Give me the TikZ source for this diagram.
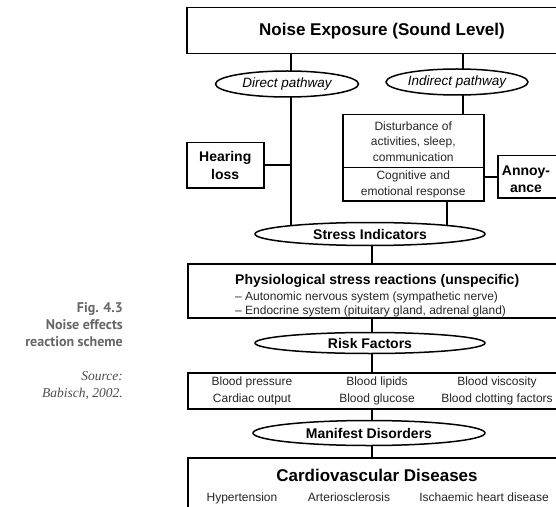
\documentclass[tikz,border=0pt]{standalone}
\usepackage{fontspec}
\setmainfont{Liberation Sans}
\newfontfamily\capfont{PT Sans}
\newfontfamily\srcfont{Liberation Serif}
\usetikzlibrary{shapes.geometric,backgrounds}
\tikzset{
  box/.style={draw, line width=1.5bp, fill=white, rectangle, inner sep=0pt, anchor=north west},
  oval/.style={draw, ellipse, line width=1.5bp, fill=white, inner sep=0pt},
  conn/.style={line width=2bp},
  txt/.style={inner sep=0pt, text=black!85, font=\fontsize{12bp}{15.5bp}\selectfont},
}
\begin{document}
\begin{tikzpicture}[x=1bp,y=-1bp]
\useasboundingbox (0,0) rectangle (556,507);
\clip (0,0) rectangle (556,507);

% caption
\node[inner sep=0pt, anchor=east, align=right, text=black!60,
      font=\capfont\bfseries\fontsize{14bp}{17bp}\selectfont] (cap) at (123,325)
  {Fig. 4.3\\Noise effects\\reaction scheme};
\node[inner sep=0pt, anchor=east, align=right, text=black!70,
      font=\srcfont\itshape\fontsize{13.5bp}{17bp}\selectfont] (src) at (123,385.5)
  {Source:\\Babisch, 2002.};

% boxes
\node[box, minimum width=392bp, minimum height=46bp] (top) at (186,7) {};
\node[inner sep=0pt, font=\bfseries\fontsize{17bp}{20bp}\selectfont] (topT) at (382,31) {Noise Exposure (Sound Level)};

\node[oval, minimum width=143bp, minimum height=26bp] (direct) at (287,84)
  {\fontsize{13.5bp}{16bp}\selectfont\itshape Direct pathway};
\node[oval, minimum width=142bp, minimum height=26bp] (indirect) at (457,82)
  {\fontsize{13.5bp}{16bp}\selectfont\itshape Indirect pathway};

\node[box, minimum width=77bp, minimum height=45bp, align=center,
      font=\bfseries\fontsize{14bp}{18bp}\selectfont] (hear) at (186,142) {Hearing\\loss};

\node[box, minimum width=141bp, minimum height=53bp, align=center, text=black!85,
      font=\fontsize{12bp}{15.5bp}\selectfont] (dist) at (342,114)
  {Disturbance of\\activities, sleep,\\communication};
\node[box, minimum width=141bp, minimum height=33bp, align=center, text=black!85,
      font=\fontsize{12bp}{15.5bp}\selectfont] (cogn) at (342,167)
  {Cognitive and\\emotional response};

\node[box, minimum width=64bp, minimum height=42bp] (annoy) at (497,155) {};
\node[inner sep=0pt, align=center, font=\bfseries\fontsize{14bp}{17bp}\selectfont] (annoyT) at (526,179) {Annoy-\\ance};

\node[oval, minimum width=230bp, minimum height=23bp] (stress) at (370,234)
  {\bfseries\fontsize{14bp}{16bp}\selectfont Stress Indicators};

\node[box, minimum width=392bp, minimum height=54bp] (phys) at (187,263) {};
\node[inner sep=0pt, anchor=base west, font=\bfseries\fontsize{14bp}{16bp}\selectfont] (physT) at (235,284)
  {Physiological stress reactions (unspecific)};
\node[txt, anchor=base west] (physA) at (235,300) {-- Autonomic nervous system (sympathetic nerve)};
\node[txt, anchor=base west] (physB) at (235,314) {-- Endocrine system (pituitary gland, adrenal gland)};

\node[oval, minimum width=230bp, minimum height=21bp] (risk) at (370,343)
  {\bfseries\fontsize{14bp}{16bp}\selectfont Risk Factors};

\node[box, minimum width=392bp, minimum height=36bp] (rbox) at (187,372) {};
\node[txt, align=center, font=\fontsize{12bp}{17bp}\selectfont] (r1) at (252,390.5) {Blood pressure\\Cardiac output};
\node[txt, align=center, font=\fontsize{12bp}{17bp}\selectfont] (r2) at (377,390.5) {Blood lipids\\Blood glucose};
\node[txt, align=center, font=\fontsize{12bp}{17bp}\selectfont] (r3) at (497,390.5) {Blood viscosity\\Blood clotting factors};

\node[oval, minimum width=232bp, minimum height=25bp] (manif) at (369,433)
  {\bfseries\fontsize{14bp}{16bp}\selectfont Manifest Disorders};

\node[box, minimum width=392bp, minimum height=70bp] (cardio) at (187,457) {};
\node[inner sep=0pt, font=\bfseries\fontsize{17bp}{20bp}\selectfont] (cardT) at (377,475) {Cardiovascular Diseases};
\node[txt, anchor=base] (c1) at (242,501) {Hypertension};
\node[txt, anchor=base] (c2) at (349,501) {Arteriosclerosis};
\node[txt, anchor=base] (c3) at (484,501) {Ischaemic heart disease};

% connectors
\coordinate (dx) at (291,0);
\coordinate (ix) at (463,0);
\coordinate (sx) at (447,0);
\coordinate (cx) at (372,0);
\begin{pgfonlayer}{background}
\draw[conn] (top.south -| dx) -- (stress.center -| dx);
\draw[conn] (top.south -| ix) -- (dist.north -| ix);
\draw[conn] (hear.east) -- (hear.east -| dx);
\draw[conn] (annoy.west) -- (annoy.west -| cogn.east);
\draw[conn] (cogn.south -| sx) -- (stress.center -| sx);
\draw[conn] (stress.center -| cx) -- (cardio.north -| cx);
\end{pgfonlayer}
\end{tikzpicture}
\end{document}
